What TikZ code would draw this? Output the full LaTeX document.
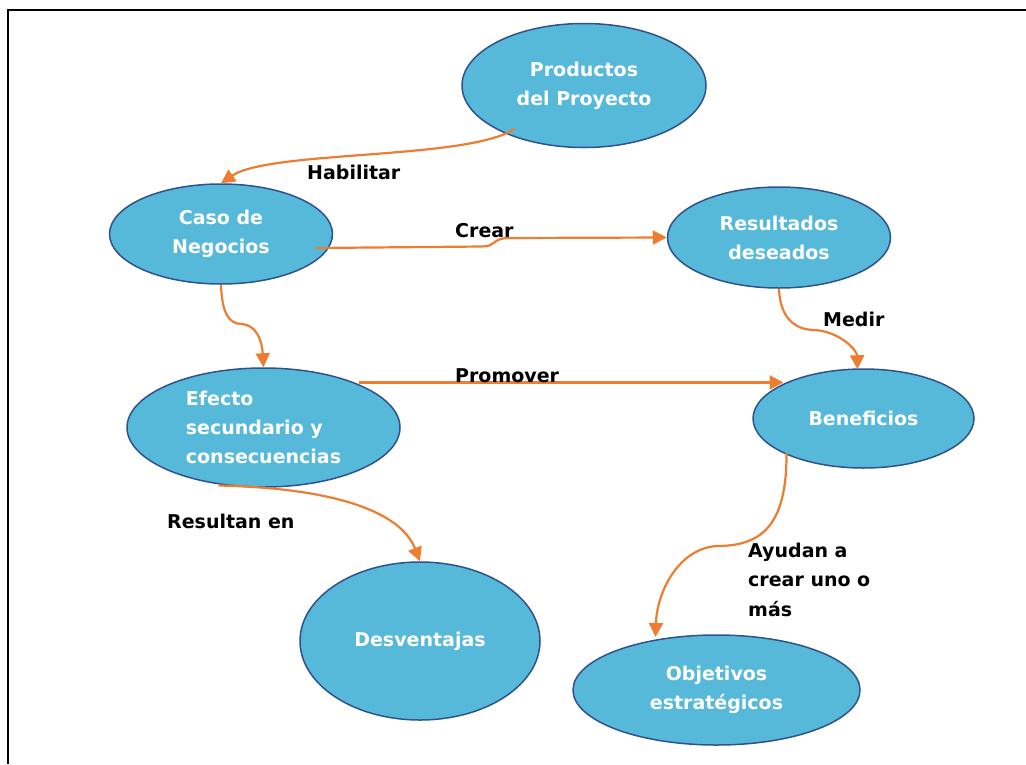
\documentclass[tikz,border=0pt]{standalone}
\usepackage{fontspec}
\setmainfont{DejaVu Sans}
\usetikzlibrary{shapes.geometric,arrows.meta,calc}
\definecolor{bubblefill}{RGB}{87,185,218}
\definecolor{bubblerim}{RGB}{47,82,143}
\definecolor{linkorange}{RGB}{237,125,49}

\begin{document}
\begin{tikzpicture}[x=1pt,y=-1pt,
  bubble/.style={ellipse,draw=bubblerim,line width=1.5pt,fill=bubblefill,
    inner sep=0pt,text=white,align=center,
    font=\bfseries\fontsize{19}{29}\selectfont},
  link/.style={draw=linkorange,line width=2.2pt,
    -{Triangle[length=14pt,width=14pt]}},
  tag/.style={font=\bfseries\fontsize{19}{29.5}\selectfont,text=black,
    inner sep=0pt,anchor=base west,align=left}]

\useasboundingbox (0,0) rectangle (1026,764);

% page frame (left and top edges)
\draw[line width=2pt] (8,764) -- (8,10) -- (1026,10);

% concepts
\node[bubble,minimum width=244pt,minimum height=124pt] (prod) at (584,85.5)
  {Productos\\del Proyecto};
\node[bubble,minimum width=223pt,minimum height=100pt] (caso) at (221,234)
  {Caso de\\Negocios};
\node[bubble,minimum width=223pt,minimum height=101pt] (res) at (779,237.5)
  {Resultados\\deseados};
\node[bubble,minimum width=273pt,minimum height=119pt,align=left] (efe) at (263.5,427.5)
  {Efecto\\secundario y\\consecuencias};
\node[bubble,minimum width=221pt,minimum height=99pt] (ben) at (863.5,418.5)
  {Beneficios};
\node[bubble,minimum width=240pt,minimum height=158pt] (des) at (420,641)
  {Desventajas};
\node[bubble,minimum width=287pt,minimum height=110pt] (obj) at (716.5,690)
  {Objetivos\\estratégicos};

% relations
\draw[link] ($(prod)+(-69,43)$) .. controls (470,160) and (270,150) .. (caso.north);
\draw[link] ($(caso)+(95,14)$) -- (482,246.5)
  .. controls (496,246.5) and (492,238.5) .. (508,238) -- (res.west);
\draw[link] (caso.south) .. controls (222,312) and (228,324) .. (242,324)
  .. controls (256,325) and (262,340) .. (efe.north);
\draw[link] (res.south) .. controls (780,318) and (795,330) .. (815,330)
  .. controls (840,332) and (857,350) .. ($(ben.north)+(-6,1)$);
\draw[link] ($(efe)+(95,-45)$) -- ($(ben)+(-80,-36)$);
\draw[link] ($(efe)+(-45,58)$) .. controls (330,488) and (400,510) .. (des.north);
\draw[link] ($(ben)+(-77,34)$) .. controls (787,525) and (762,546) .. (717,546)
  .. controls (680,548) and (657,590) .. ($(obj)+(-61,-53)$);

% relation labels
\node[tag] (lhab) at (307,179) {Habilitar};
\node[tag] (lcre) at (455,237) {Crear};
\node[tag] (lmed) at (823,326) {Medir};
\node[tag] (lpro) at (455,382) {Promover};
\node[tag] (lres) at (167,528) {Resultan en};
\node[tag] (lay)  at (748,616) {Ayudan a\\crear uno o\\más};
\end{tikzpicture}
\end{document}
